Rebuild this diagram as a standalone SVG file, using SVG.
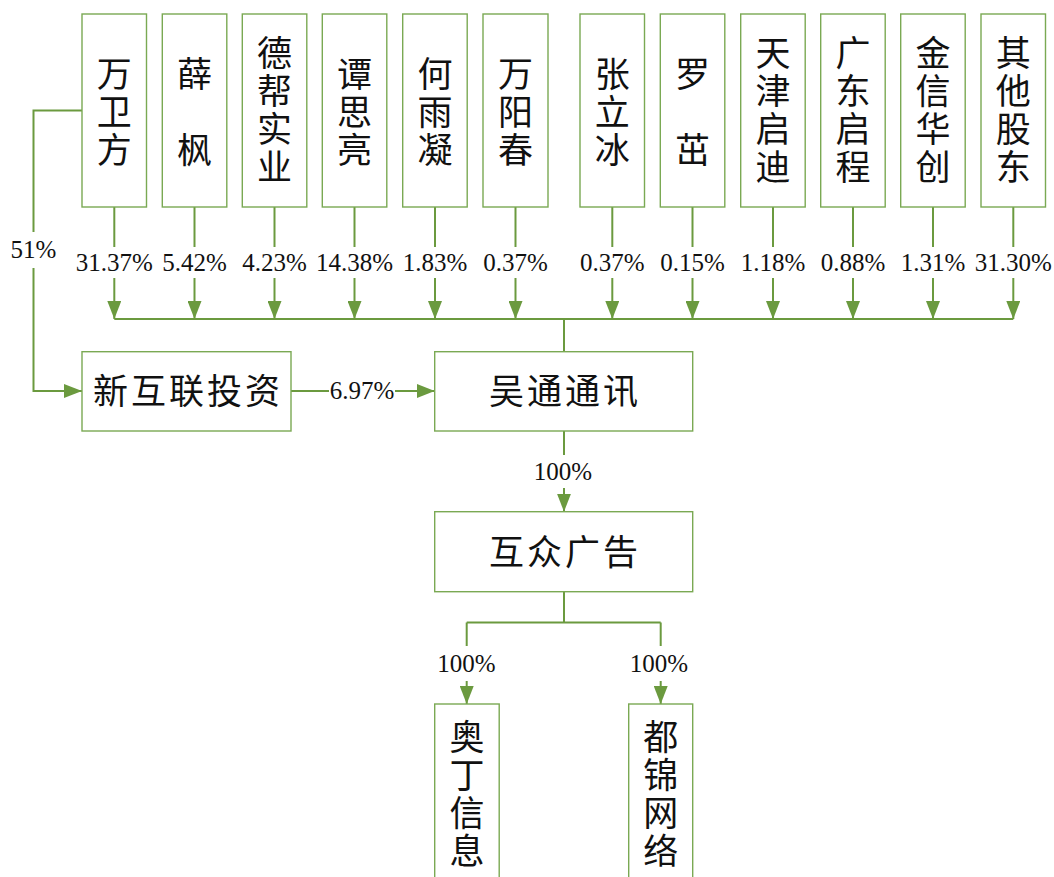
<svg xmlns="http://www.w3.org/2000/svg" width="1054" height="877" viewBox="0 0 1054 877">
<defs>
<style>
.box{fill:#fff;stroke:#7aa953;stroke-width:1.4}
.cn{font-family:"Noto Sans CJK SC","Noto Sans CJK JP",sans-serif;font-size:35px;fill:#111;text-anchor:middle;letter-spacing:3px}
.v{writing-mode:vertical-rl}
.pct{font-family:"Liberation Serif","Times New Roman",serif;font-size:25px;fill:#111;text-anchor:middle}
.ln{fill:none;stroke:#6b9a3f;stroke-width:2}
.bg{fill:#fff}
</style>
<marker id="arr" markerUnits="userSpaceOnUse" markerWidth="18" markerHeight="14" refX="18" refY="7" orient="auto">
<path d="M0,0 L18,7 L0,14 z" fill="#6b9a3f"/>
</marker>
</defs>
<rect width="1054" height="877" fill="#fff"/>

<g id="connectors">
<path class="ln" d="M114.3,207 V319" marker-end="url(#arr)"/>
<path class="ln" d="M194.5,207 V319" marker-end="url(#arr)"/>
<path class="ln" d="M274.5,207 V319" marker-end="url(#arr)"/>
<path class="ln" d="M354.5,207 V319" marker-end="url(#arr)"/>
<path class="ln" d="M435,207 V319" marker-end="url(#arr)"/>
<path class="ln" d="M515.5,207 V319" marker-end="url(#arr)"/>
<path class="ln" d="M612.3,207 V319" marker-end="url(#arr)"/>
<path class="ln" d="M692.5,207 V319" marker-end="url(#arr)"/>
<path class="ln" d="M773,207 V319" marker-end="url(#arr)"/>
<path class="ln" d="M853,207 V319" marker-end="url(#arr)"/>
<path class="ln" d="M933,207 V319" marker-end="url(#arr)"/>
<path class="ln" d="M1013.3,207 V319" marker-end="url(#arr)"/>
<path class="ln" d="M114.3,319 H1013.3"/>
<path class="ln" d="M564,319 V352"/>
<path class="ln" d="M82,110.5 H33.5 V391 H82" marker-end="url(#arr)"/>
<path class="ln" d="M291,391 H434.7" marker-end="url(#arr)"/>
<path class="ln" d="M564,431 V511.7" marker-end="url(#arr)"/>
<path class="ln" d="M564,591.7 V622.5"/>
<path class="ln" d="M466.7,622.5 H660.7"/>
<path class="ln" d="M466.7,622.5 V704" marker-end="url(#arr)"/>
<path class="ln" d="M660.7,622.5 V704" marker-end="url(#arr)"/>

<g id="labels">
<rect class="bg" x="8" y="232" width="52" height="36"/>
<text class="pct" x="33.5" y="258">51%</text>
<rect class="bg" x="72" y="247" width="984" height="31"/>
<text class="pct" x="114.3" y="271">31.37%</text>
<text class="pct" x="194.5" y="271">5.42%</text>
<text class="pct" x="274.5" y="271">4.23%</text>
<text class="pct" x="354.5" y="271">14.38%</text>
<text class="pct" x="435" y="271">1.83%</text>
<text class="pct" x="515.5" y="271">0.37%</text>
<text class="pct" x="612.3" y="271">0.37%</text>
<text class="pct" x="692.5" y="271">0.15%</text>
<text class="pct" x="773" y="271">1.18%</text>
<text class="pct" x="853" y="271">0.88%</text>
<text class="pct" x="933" y="271">1.31%</text>
<text class="pct" x="1013.3" y="271">31.30%</text>
<rect class="bg" x="329" y="378" width="66" height="26"/>
<text class="pct" x="362" y="399">6.97%</text>
<rect class="bg" x="530" y="455" width="66" height="33"/>
<text class="pct" x="563" y="480">100%</text>
<rect class="bg" x="436" y="646" width="62" height="35"/>
<text class="pct" x="466.5" y="671.5">100%</text>
<rect class="bg" x="629" y="646" width="62" height="35"/>
<text class="pct" x="659" y="671.5">100%</text>
</g>
</g>

<g id="n-wanweifang"><rect class="box" x="82" y="14" width="64.5" height="193"/>
<text class="cn v" x="114.3" y="113.5">万卫方</text></g>
<g id="n-xuefeng"><rect class="box" x="162.3" y="14" width="64.5" height="193"/>
<text class="cn v" x="194.5" y="113.5">薛　枫</text></g>
<g id="n-debang"><rect class="box" x="242.3" y="14" width="64.5" height="193"/>
<text class="cn v" x="274.5" y="111">德帮实业</text></g>
<g id="n-tansiliang"><rect class="box" x="322.3" y="14" width="64.5" height="193"/>
<text class="cn v" x="354.5" y="113.5">谭思亮</text></g>
<g id="n-heyuning"><rect class="box" x="402.7" y="14" width="64.5" height="193"/>
<text class="cn v" x="435" y="113.5">何雨凝</text></g>
<g id="n-wanyangchun"><rect class="box" x="483" y="14" width="65" height="193"/>
<text class="cn v" x="515.5" y="113.5">万阳春</text></g>
<g id="n-zhanglibing"><rect class="box" x="580" y="14" width="64.5" height="193"/>
<text class="cn v" x="612.3" y="113.5">张立冰</text></g>
<g id="n-luozhuo"><rect class="box" x="660.3" y="14" width="64.5" height="193"/>
<text class="cn v" x="692.5" y="113.5">罗　茁</text></g>
<g id="n-tianjinqidi"><rect class="box" x="740.7" y="14" width="64.5" height="193"/>
<text class="cn v" x="773" y="111">天津启迪</text></g>
<g id="n-guangdongqicheng"><rect class="box" x="820.7" y="14" width="64.5" height="193"/>
<text class="cn v" x="853" y="111">广东启程</text></g>
<g id="n-jinxinhuachuang"><rect class="box" x="900.7" y="14" width="64.5" height="193"/>
<text class="cn v" x="933" y="111">金信华创</text></g>
<g id="n-qita"><rect class="box" x="981" y="14" width="64.5" height="193"/>
<text class="cn v" x="1013.3" y="111">其他股东</text></g>

<g id="n-xinhulian"><rect class="box" x="82" y="351.7" width="209" height="79.3"/>
<text class="cn" x="188" y="404">新互联投资</text></g>
<g id="n-wutong"><rect class="box" x="434.7" y="351.7" width="258" height="79.3"/>
<text class="cn" x="565" y="404">吴通通讯</text></g>
<g id="n-huzhong"><rect class="box" x="434.7" y="511.7" width="258" height="80"/>
<text class="cn" x="565" y="565">互众广告</text></g>
<g id="n-aoding"><rect class="box" x="434.7" y="704" width="64.5" height="190"/>
<text class="cn v" x="467" y="795">奥丁信息</text></g>
<g id="n-dujin"><rect class="box" x="628.7" y="704" width="64" height="190"/>
<text class="cn v" x="660.7" y="795">都锦网络</text></g>
</svg>
